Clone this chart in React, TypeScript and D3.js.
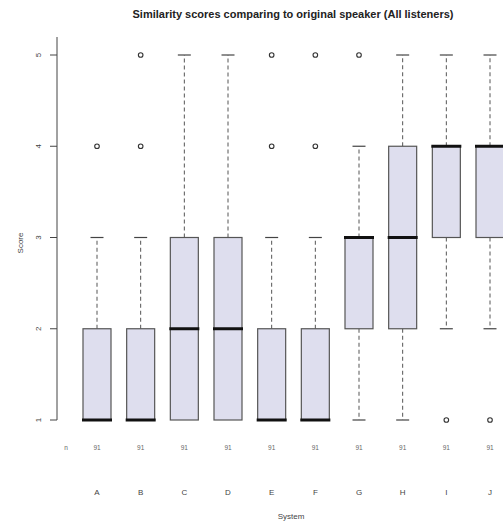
import React, { useEffect, useRef } from 'react'
import * as d3 from 'd3'

const systems = ['A', 'B', 'C', 'D', 'E', 'F', 'G', 'H', 'I', 'J']
const lowWhisker = [1, 1, 1, 1, 1, 1, 1, 1, 2, 2]
const q1 = [1, 1, 1, 1, 1, 1, 2, 2, 3, 3]
const medians = [1, 1, 2, 2, 1, 1, 3, 3, 4, 4]
const q3 = [2, 2, 3, 3, 2, 2, 3, 4, 4, 4]
const highWhisker = [3, 3, 5, 5, 3, 3, 4, 5, 5, 5]
const outliers = [[4], [4, 5], [], [], [4, 5], [4, 5], [5], [], [1], [1]]
const counts = [91, 91, 91, 91, 91, 91, 91, 91, 91, 91]
const yTicks = [1, 2, 3, 4, 5]

export default function App() {
  const ref = useRef<SVGSVGElement>(null)

  useEffect(() => {
    const svg = d3.select(ref.current)
    svg.selectAll('*').remove()
    const font = 'Liberation Sans, Arial, sans-serif'

    const x = d3.scalePoint().domain(systems).range([97, 490])
    const y = d3.scaleLinear().domain([1, 5]).range([420, 55])
    const boxW = 28
    const capW = 13

    // title
    svg.append('text')
      .attr('x', 293).attr('y', 18)
      .attr('text-anchor', 'middle')
      .attr('font-family', font).attr('font-weight', 'bold').attr('font-size', 11)
      .attr('fill', '#222')
      .text('Similarity scores comparing to original speaker (All listeners)')

    // y axis
    const axis = svg.append('g').attr('stroke', '#444').attr('stroke-width', 1)
    axis.append('line').attr('x1', 57).attr('x2', 57).attr('y1', 37).attr('y2', y(1))
    yTicks.forEach(t => {
      axis.append('line').attr('x1', 50).attr('x2', 57).attr('y1', y(t)).attr('y2', y(t))
      svg.append('text')
        .attr('transform', `translate(41,${y(t)}) rotate(-90)`)
        .attr('text-anchor', 'middle')
        .attr('font-family', font).attr('font-size', 8).attr('fill', '#444')
        .text(String(t))
    })
    svg.append('text')
      .attr('transform', `translate(23,243) rotate(-90)`)
      .attr('text-anchor', 'middle')
      .attr('font-family', font).attr('font-size', 8).attr('fill', '#444')
      .text('Score')

    systems.forEach((s, i) => {
      const cx = x(s) as number
      const g = svg.append('g')
      // whiskers
      if (highWhisker[i] > q3[i]) {
        g.append('line').attr('x1', cx).attr('x2', cx).attr('y1', y(q3[i])).attr('y2', y(highWhisker[i]))
          .attr('stroke', '#555').attr('stroke-dasharray', '4,3')
      }
      g.append('line').attr('x1', cx - capW / 2).attr('x2', cx + capW / 2)
        .attr('y1', y(highWhisker[i])).attr('y2', y(highWhisker[i]))
        .attr('stroke', '#444').attr('stroke-width', 1.2)
      if (lowWhisker[i] < q1[i]) {
        g.append('line').attr('x1', cx).attr('x2', cx).attr('y1', y(q1[i])).attr('y2', y(lowWhisker[i]))
          .attr('stroke', '#555').attr('stroke-dasharray', '4,3')
        g.append('line').attr('x1', cx - capW / 2).attr('x2', cx + capW / 2)
          .attr('y1', y(lowWhisker[i])).attr('y2', y(lowWhisker[i]))
          .attr('stroke', '#444').attr('stroke-width', 1.2)
      }
      // box
      g.append('rect')
        .attr('x', cx - boxW / 2).attr('width', boxW)
        .attr('y', y(q3[i])).attr('height', y(q1[i]) - y(q3[i]))
        .attr('fill', '#dedeee').attr('stroke', '#555').attr('stroke-width', 1.2)
      // median
      g.append('line').attr('x1', cx - boxW / 2 - 1).attr('x2', cx + boxW / 2 + 1)
        .attr('y1', y(medians[i])).attr('y2', y(medians[i]))
        .attr('stroke', '#111').attr('stroke-width', 3)
      // outliers
      outliers[i].forEach(o => {
        g.append('circle').attr('cx', cx).attr('cy', y(o)).attr('r', 2.3)
          .attr('fill', 'none').attr('stroke', '#333').attr('stroke-width', 1.1)
      })
      // n counts
      svg.append('text').attr('x', cx).attr('y', 450).attr('text-anchor', 'middle')
        .attr('font-family', font).attr('font-size', 6.5).attr('fill', '#666')
        .text(String(counts[i]))
      // system labels
      svg.append('text').attr('x', cx).attr('y', 495).attr('text-anchor', 'middle')
        .attr('font-family', font).attr('font-size', 8).attr('fill', '#444')
        .text(s)
    })

    svg.append('text').attr('x', 66).attr('y', 450).attr('text-anchor', 'middle')
      .attr('font-family', font).attr('font-size', 6.5).attr('fill', '#666')
      .text('n')
    svg.append('text').attr('x', 291).attr('y', 519).attr('text-anchor', 'middle')
      .attr('font-family', font).attr('font-size', 8).attr('fill', '#444')
      .text('System')
  }, [])

  return (
    <svg ref={ref} width={503} height={524}
      style={{ position: 'absolute', left: 0, top: 0, background: '#fff' }} />
  )
}
